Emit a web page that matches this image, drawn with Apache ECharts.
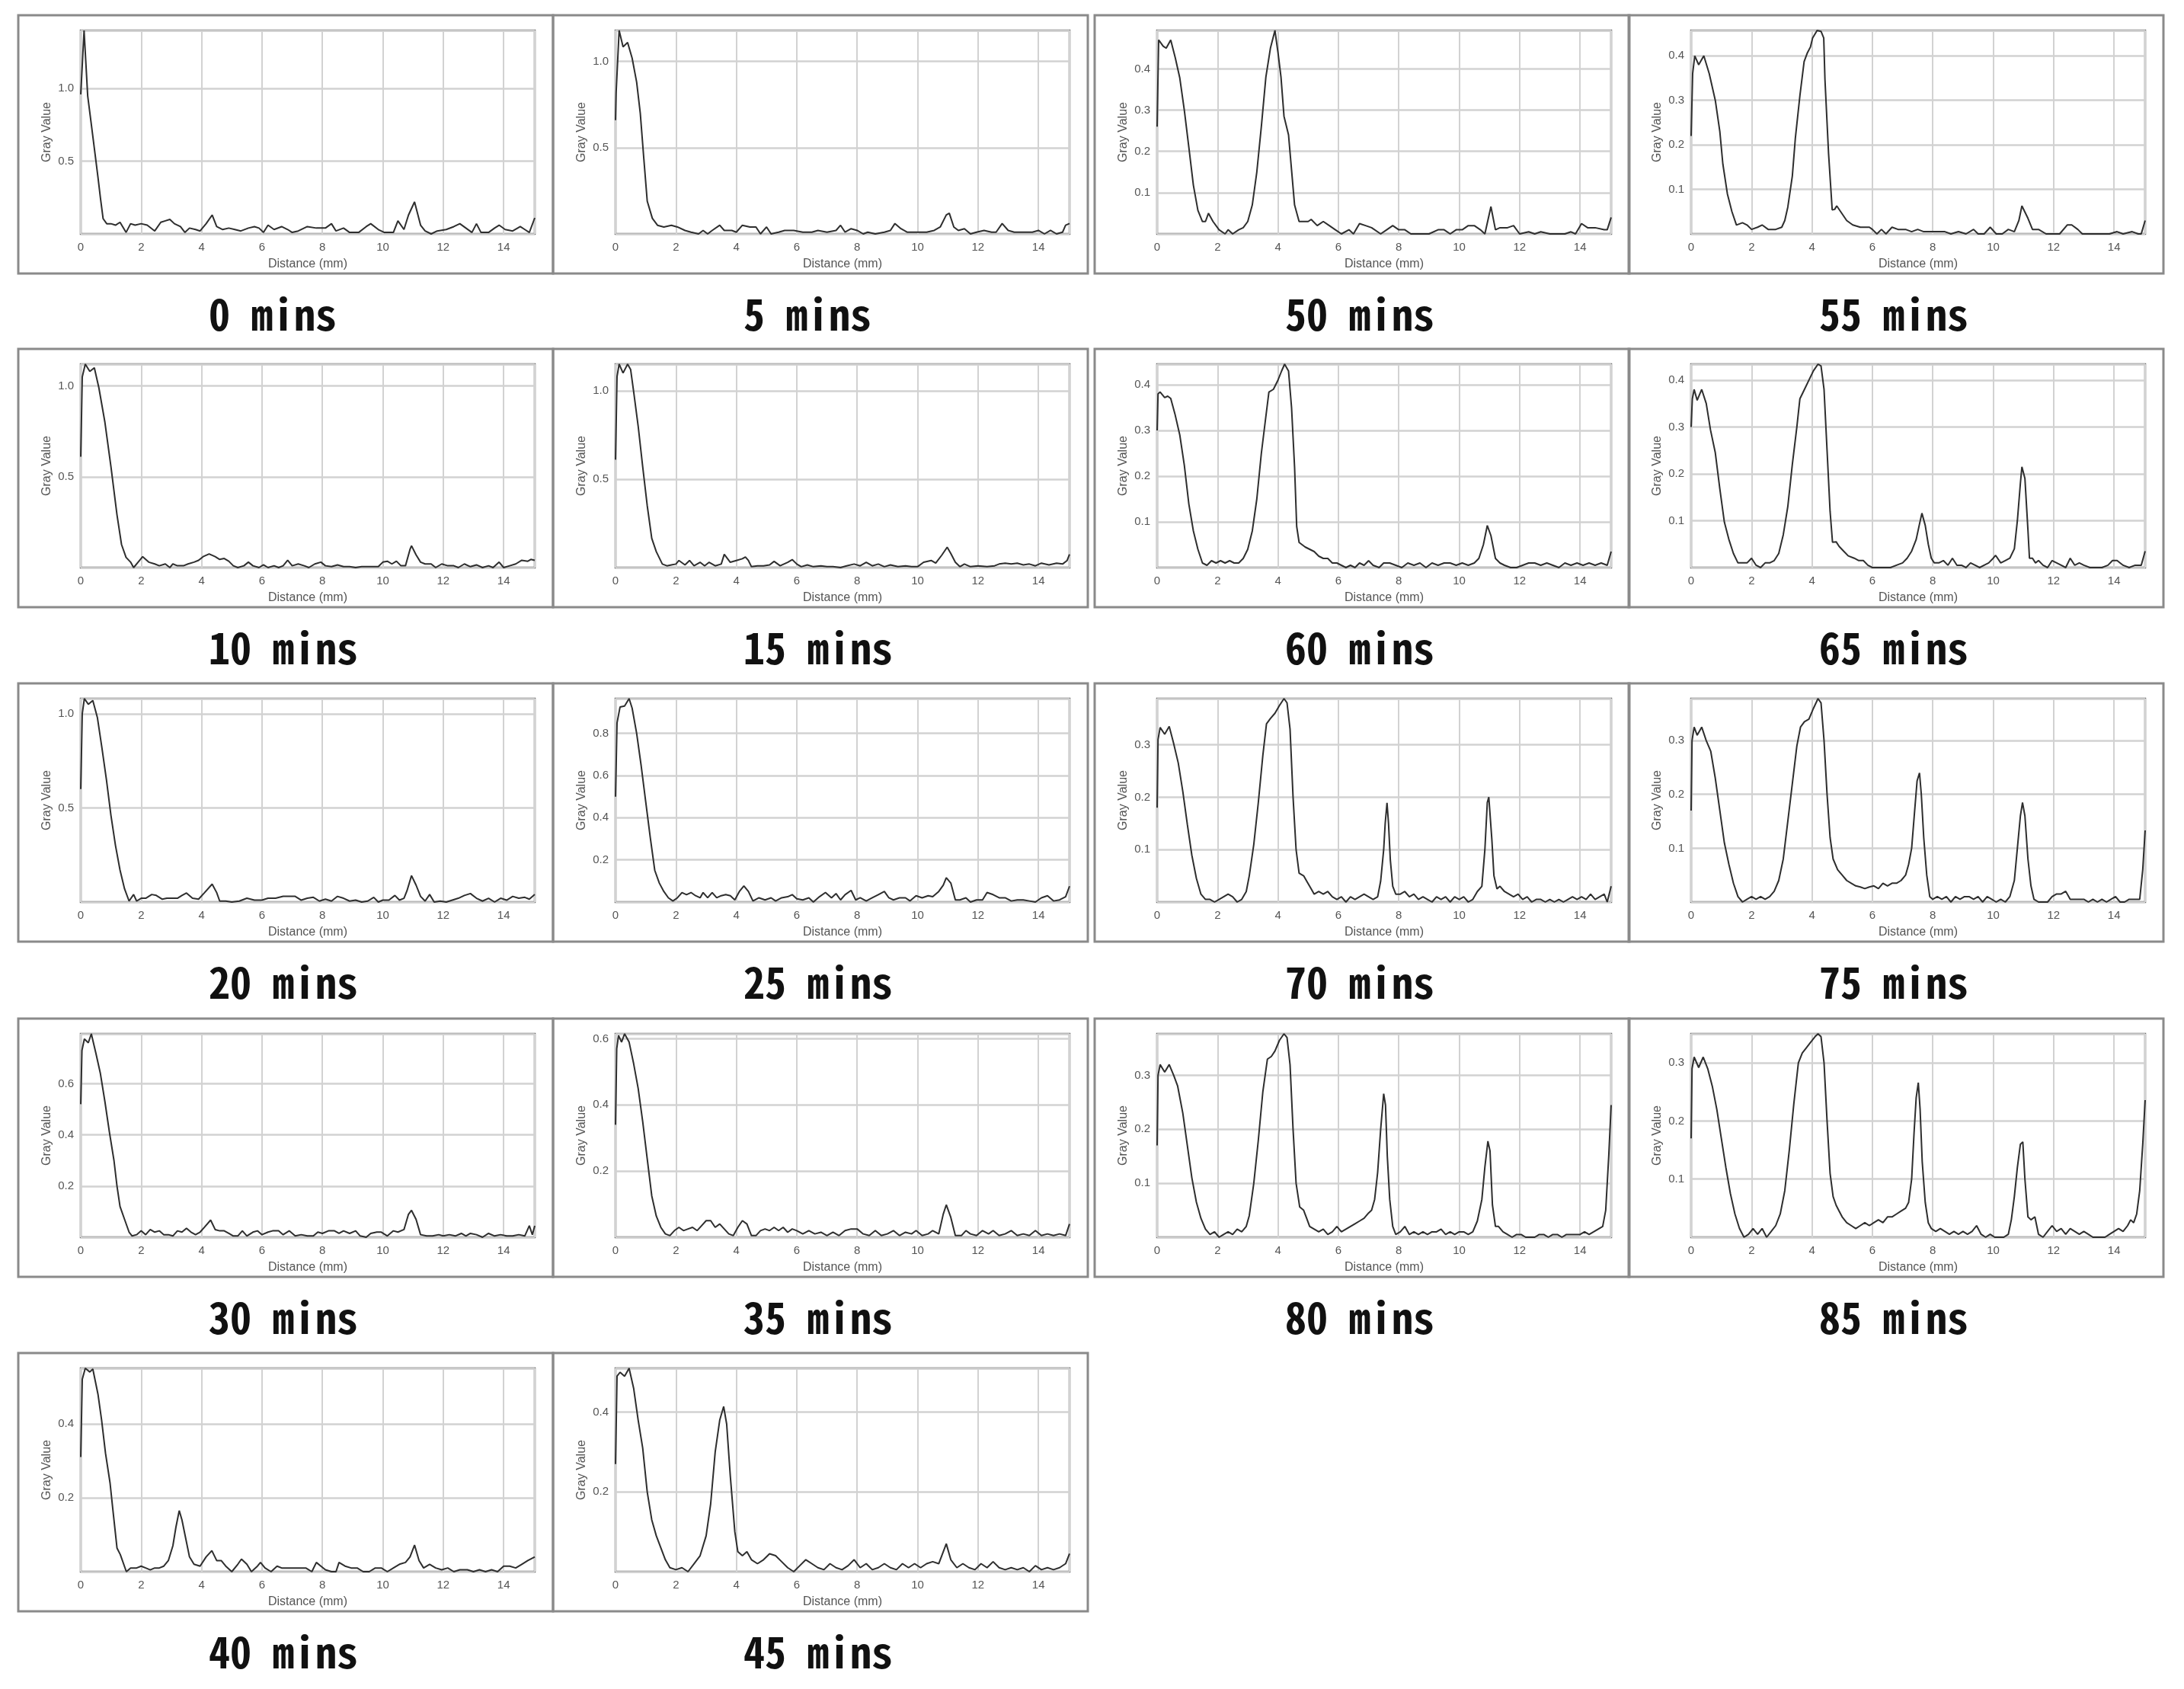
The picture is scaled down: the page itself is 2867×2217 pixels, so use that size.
<!DOCTYPE html>
<html>
<head>
<meta charset="utf-8">
<script src="https://cdn.jsdelivr.net/npm/echarts@6/dist/echarts.min.js"></script>
<style>
html,body{margin:0;padding:0;background:#fff}
#charts{width:2867px;height:2217px}
</style>
</head>
<body>
<div id="charts"></div>
<script>
// gray value profiles, [distance (mm), gray value]
var p0 = [[0,0.96],[0.11,1.40],[0.23,0.95],[0.34,0.77],[0.48,0.54],[0.57,0.39],[0.65,0.25],[0.74,0.105],[0.86,0.07],[1.0,0.07],[1.15,0.06],[1.3,0.08],[1.5,0.01],[1.65,0.07],[1.8,0.06],[2.0,0.07],[2.2,0.06],[2.45,0.02],[2.65,0.08],[2.8,0.09],[2.95,0.10],[3.1,0.07],[3.3,0.05],[3.45,0.01],[3.6,0.04],[3.8,0.03],[3.95,0.02],[4.15,0.07],[4.35,0.13],[4.5,0.05],[4.7,0.03],[4.9,0.04],[5.1,0.03],[5.3,0.02],[5.55,0.04],[5.75,0.05],[5.9,0.04],[6.05,0.01],[6.2,0.06],[6.4,0.03],[6.65,0.05],[6.85,0.03],[7.0,0.01],[7.2,0.02],[7.5,0.05],[7.8,0.04],[8.1,0.04],[8.3,0.07],[8.45,0.02],[8.7,0.04],[8.9,0.01],[9.2,0.01],[9.45,0.05],[9.6,0.07],[9.85,0.03],[10.05,0.01],[10.35,0.01],[10.5,0.09],[10.7,0.03],[10.85,0.13],[11.05,0.22],[11.25,0.06],[11.4,0.02],[11.6,0.0],[11.8,0.02],[12.1,0.03],[12.35,0.05],[12.55,0.07],[12.75,0.04],[12.95,0.01],[13.1,0.07],[13.25,0.01],[13.5,0.01],[13.7,0.04],[13.85,0.06],[14.05,0.03],[14.3,0.02],[14.55,0.05],[14.7,0.03],[14.85,0.01],[15.03,0.11]];
var p5 = [[0,0.66],[0.02,0.82],[0.12,1.18],[0.25,1.085],[0.4,1.11],[0.55,1.02],[0.7,0.88],[0.82,0.70],[0.94,0.43],[1.05,0.19],[1.22,0.09],[1.39,0.05],[1.6,0.04],[1.85,0.05],[2.05,0.04],[2.3,0.02],[2.5,0.01],[2.75,0.0],[2.9,0.02],[3.05,0.0],[3.2,0.02],[3.45,0.05],[3.6,0.02],[3.85,0.02],[4.0,0.01],[4.2,0.05],[4.45,0.04],[4.65,0.04],[4.8,0.0],[5.0,0.04],[5.15,0.0],[5.4,0.01],[5.6,0.02],[5.9,0.02],[6.2,0.01],[6.5,0.01],[6.7,0.02],[7.0,0.01],[7.3,0.02],[7.45,0.05],[7.6,0.01],[7.8,0.03],[8.0,0.02],[8.2,0.0],[8.35,0.01],[8.6,0.0],[8.9,0.01],[9.1,0.02],[9.25,0.06],[9.45,0.03],[9.65,0.01],[9.9,0.01],[10.1,0.01],[10.3,0.01],[10.55,0.02],[10.75,0.04],[10.95,0.11],[11.05,0.12],[11.2,0.04],[11.35,0.02],[11.55,0.03],[11.75,0.0],[11.95,0.01],[12.2,0.02],[12.45,0.01],[12.6,0.01],[12.8,0.06],[13.0,0.02],[13.2,0.01],[13.5,0.01],[13.8,0.01],[14.0,0.02],[14.2,0.0],[14.4,0.02],[14.6,0.0],[14.8,0.01],[14.9,0.05],[15.03,0.06]];
var p10 = [[0,0.61],[0.05,1.05],[0.15,1.12],[0.3,1.08],[0.45,1.10],[0.6,0.99],[0.8,0.80],[1.0,0.555],[1.2,0.29],[1.35,0.127],[1.5,0.056],[1.65,0.03],[1.75,0.0],[1.9,0.03],[2.05,0.06],[2.25,0.03],[2.45,0.02],[2.6,0.01],[2.8,0.02],[2.95,0.0],[3.05,0.02],[3.2,0.01],[3.4,0.01],[3.55,0.02],[3.75,0.03],[3.9,0.04],[4.05,0.06],[4.25,0.075],[4.45,0.06],[4.6,0.045],[4.75,0.05],[4.9,0.035],[5.05,0.01],[5.2,0.0],[5.4,0.01],[5.55,0.03],[5.7,0.01],[5.9,0.0],[6.05,0.015],[6.2,0.0],[6.4,0.01],[6.55,0.0],[6.7,0.01],[6.85,0.04],[7.0,0.01],[7.2,0.02],[7.4,0.01],[7.55,0.0],[7.75,0.02],[7.95,0.03],[8.1,0.01],[8.3,0.005],[8.5,0.015],[8.7,0.005],[8.9,0.005],[9.1,0.0],[9.3,0.005],[9.6,0.005],[9.85,0.005],[10.0,0.03],[10.15,0.035],[10.3,0.02],[10.45,0.035],[10.6,0.01],[10.75,0.01],[10.9,0.10],[10.95,0.12],[11.1,0.07],[11.25,0.03],[11.4,0.02],[11.6,0.02],[11.75,0.0],[11.95,0.02],[12.15,0.01],[12.35,0.01],[12.5,0.0],[12.7,0.02],[12.9,0.005],[13.1,0.015],[13.3,0.0],[13.5,0.01],[13.65,0.0],[13.85,0.03],[14.0,0.0],[14.2,0.01],[14.4,0.02],[14.6,0.04],[14.8,0.035],[14.9,0.045],[15.03,0.04]];
var p15 = [[0,0.61],[0.05,1.08],[0.12,1.15],[0.25,1.10],[0.4,1.15],[0.5,1.12],[0.6,0.995],[0.75,0.80],[0.9,0.57],[1.05,0.35],[1.2,0.165],[1.35,0.09],[1.55,0.02],[1.7,0.01],[1.85,0.015],[2.0,0.02],[2.1,0.04],[2.3,0.015],[2.45,0.04],[2.6,0.01],[2.8,0.03],[2.95,0.01],[3.1,0.03],[3.3,0.01],[3.5,0.02],[3.6,0.075],[3.8,0.03],[4.0,0.04],[4.2,0.05],[4.3,0.06],[4.4,0.04],[4.5,0.005],[4.7,0.01],[4.9,0.01],[5.1,0.015],[5.25,0.035],[5.45,0.01],[5.7,0.03],[5.85,0.045],[6.0,0.02],[6.15,0.005],[6.35,0.015],[6.55,0.005],[6.8,0.01],[7.0,0.005],[7.2,0.005],[7.45,0.0],[7.65,0.01],[7.9,0.02],[8.1,0.01],[8.3,0.03],[8.5,0.01],[8.7,0.02],[8.9,0.005],[9.1,0.015],[9.35,0.005],[9.6,0.01],[9.8,0.005],[10.0,0.005],[10.2,0.03],[10.45,0.04],[10.6,0.025],[10.8,0.07],[10.98,0.115],[11.1,0.08],[11.25,0.03],[11.4,0.005],[11.55,0.02],[11.75,0.005],[12.0,0.01],[12.3,0.005],[12.55,0.01],[12.7,0.02],[12.9,0.025],[13.1,0.02],[13.3,0.025],[13.5,0.015],[13.7,0.02],[13.9,0.01],[14.1,0.025],[14.35,0.015],[14.6,0.025],[14.8,0.02],[14.95,0.04],[15.03,0.075]];
var p20 = [[0,0.60],[0.05,1.0],[0.12,1.08],[0.25,1.05],[0.4,1.07],[0.55,0.98],[0.7,0.82],[0.85,0.65],[1.0,0.46],[1.15,0.30],[1.3,0.17],[1.45,0.07],[1.6,0.005],[1.75,0.04],[1.85,0.005],[2.0,0.02],[2.15,0.02],[2.35,0.04],[2.5,0.035],[2.7,0.015],[2.85,0.02],[3.0,0.02],[3.2,0.02],[3.35,0.035],[3.5,0.048],[3.7,0.02],[3.9,0.015],[4.1,0.05],[4.35,0.095],[4.5,0.05],[4.6,0.005],[4.8,0.005],[5.0,0.0],[5.25,0.005],[5.5,0.02],[5.75,0.01],[6.0,0.01],[6.2,0.02],[6.45,0.02],[6.7,0.03],[6.9,0.03],[7.1,0.03],[7.3,0.01],[7.5,0.02],[7.7,0.025],[7.9,0.005],[8.1,0.015],[8.3,0.005],[8.5,0.03],[8.7,0.02],[8.9,0.005],[9.1,0.01],[9.3,0.0],[9.5,0.005],[9.7,0.025],[9.85,0.0],[10.0,0.01],[10.2,0.01],[10.4,0.035],[10.55,0.01],[10.7,0.02],[10.8,0.06],[10.95,0.14],[11.1,0.09],[11.25,0.03],[11.4,0.005],[11.55,0.04],[11.7,0.0],[11.9,0.005],[12.1,0.0],[12.3,0.01],[12.5,0.02],[12.7,0.035],[12.9,0.045],[13.1,0.02],[13.3,0.005],[13.5,0.02],[13.7,0.0],[13.9,0.02],[14.1,0.01],[14.3,0.03],[14.5,0.02],[14.7,0.025],[14.85,0.015],[15.03,0.04]];
var p25 = [[0,0.50],[0.05,0.85],[0.15,0.925],[0.3,0.93],[0.45,0.965],[0.55,0.92],[0.7,0.80],[0.85,0.646],[1.0,0.476],[1.15,0.307],[1.3,0.15],[1.45,0.09],[1.6,0.05],[1.75,0.02],[1.9,0.005],[2.05,0.02],[2.2,0.045],[2.35,0.035],[2.5,0.045],[2.65,0.03],[2.8,0.02],[2.9,0.045],[3.05,0.02],[3.2,0.045],[3.35,0.02],[3.5,0.03],[3.65,0.035],[3.8,0.03],[3.95,0.01],[4.1,0.05],[4.25,0.076],[4.4,0.05],[4.55,0.005],[4.75,0.02],[4.95,0.01],[5.15,0.02],[5.3,0.005],[5.5,0.02],[5.7,0.025],[5.85,0.035],[6.0,0.015],[6.2,0.01],[6.4,0.02],[6.55,0.0],[6.75,0.025],[6.95,0.045],[7.15,0.02],[7.3,0.04],[7.45,0.01],[7.6,0.035],[7.8,0.055],[7.95,0.01],[8.1,0.02],[8.3,0.005],[8.5,0.02],[8.7,0.035],[8.9,0.05],[9.05,0.02],[9.2,0.01],[9.4,0.02],[9.6,0.02],[9.75,0.005],[9.95,0.03],[10.15,0.02],[10.35,0.03],[10.5,0.025],[10.7,0.05],[10.85,0.08],[10.95,0.115],[11.1,0.09],[11.25,0.01],[11.4,0.01],[11.6,0.02],[11.75,0.0],[11.95,0.01],[12.15,0.01],[12.3,0.045],[12.5,0.035],[12.7,0.02],[12.9,0.02],[13.1,0.005],[13.3,0.01],[13.5,0.01],[13.7,0.005],[13.9,0.0],[14.1,0.02],[14.3,0.03],[14.5,0.005],[14.7,0.01],[14.9,0.025],[15.03,0.075]];
var p30 = [[0,0.52],[0.04,0.73],[0.12,0.775],[0.25,0.76],[0.35,0.795],[0.5,0.72],[0.65,0.64],[0.8,0.53],[0.95,0.41],[1.1,0.30],[1.2,0.20],[1.3,0.12],[1.45,0.07],[1.6,0.02],[1.7,0.005],[1.85,0.01],[2.0,0.025],[2.15,0.01],[2.3,0.03],[2.45,0.02],[2.6,0.025],[2.75,0.01],[2.9,0.01],[3.05,0.005],[3.2,0.025],[3.35,0.02],[3.5,0.035],[3.65,0.02],[3.8,0.01],[3.95,0.02],[4.1,0.04],[4.3,0.067],[4.45,0.03],[4.6,0.025],[4.75,0.025],[4.9,0.015],[5.05,0.005],[5.2,0.005],[5.35,0.025],[5.5,0.005],[5.7,0.02],[5.85,0.025],[6.0,0.01],[6.2,0.02],[6.35,0.025],[6.55,0.025],[6.7,0.01],[6.9,0.025],[7.1,0.005],[7.3,0.01],[7.5,0.005],[7.7,0.005],[7.85,0.02],[8.0,0.015],[8.2,0.025],[8.4,0.025],[8.55,0.015],[8.7,0.025],[8.9,0.015],[9.1,0.025],[9.25,0.005],[9.45,0.0],[9.6,0.015],[9.8,0.02],[9.95,0.02],[10.15,0.005],[10.35,0.025],[10.5,0.02],[10.7,0.03],[10.85,0.09],[10.95,0.105],[11.1,0.07],[11.25,0.01],[11.45,0.005],[11.65,0.005],[11.85,0.01],[12.0,0.005],[12.2,0.01],[12.4,0.005],[12.6,0.015],[12.75,0.005],[12.9,0.015],[13.1,0.01],[13.3,0.0],[13.5,0.015],[13.7,0.005],[13.9,0.01],[14.1,0.005],[14.3,0.005],[14.5,0.01],[14.7,0.005],[14.85,0.045],[14.95,0.01],[15.03,0.045]];
var p35 = [[0,0.34],[0.04,0.57],[0.1,0.61],[0.2,0.59],[0.3,0.615],[0.45,0.59],[0.6,0.525],[0.75,0.45],[0.9,0.35],[1.05,0.237],[1.2,0.125],[1.35,0.064],[1.5,0.03],[1.65,0.01],[1.8,0.005],[1.95,0.02],[2.1,0.03],[2.25,0.02],[2.4,0.025],[2.55,0.03],[2.7,0.02],[2.85,0.035],[3.0,0.05],[3.15,0.05],[3.3,0.03],[3.45,0.04],[3.6,0.025],[3.75,0.01],[3.9,0.005],[4.05,0.03],[4.2,0.05],[4.35,0.04],[4.5,0.005],[4.65,0.005],[4.8,0.02],[4.95,0.025],[5.1,0.02],[5.25,0.03],[5.4,0.02],[5.55,0.03],[5.7,0.015],[5.85,0.025],[6.0,0.02],[6.2,0.01],[6.4,0.02],[6.6,0.01],[6.8,0.015],[7.0,0.005],[7.2,0.015],[7.4,0.005],[7.6,0.02],[7.8,0.025],[8.0,0.025],[8.2,0.01],[8.4,0.005],[8.6,0.02],[8.8,0.005],[9.0,0.01],[9.2,0.02],[9.4,0.005],[9.6,0.015],[9.8,0.01],[9.95,0.02],[10.15,0.005],[10.35,0.01],[10.5,0.02],[10.7,0.01],[10.85,0.07],[10.95,0.098],[11.1,0.06],[11.25,0.005],[11.45,0.005],[11.6,0.02],[11.75,0.01],[11.95,0.005],[12.15,0.02],[12.35,0.01],[12.5,0.02],[12.7,0.005],[12.9,0.01],[13.1,0.02],[13.3,0.005],[13.5,0.01],[13.7,0.005],[13.9,0.02],[14.1,0.005],[14.3,0.01],[14.5,0.005],[14.7,0.01],[14.9,0.005],[15.03,0.04]];
var p40 = [[0,0.31],[0.05,0.52],[0.15,0.55],[0.3,0.54],[0.4,0.548],[0.57,0.48],[0.69,0.41],[0.82,0.32],[0.97,0.24],[1.06,0.17],[1.2,0.064],[1.31,0.046],[1.51,0.0],[1.65,0.01],[1.85,0.01],[2.0,0.015],[2.15,0.01],[2.3,0.005],[2.45,0.01],[2.6,0.01],[2.75,0.015],[2.9,0.03],[3.05,0.07],[3.15,0.12],[3.26,0.165],[3.35,0.14],[3.45,0.10],[3.6,0.04],[3.75,0.02],[3.95,0.015],[4.15,0.04],[4.34,0.057],[4.5,0.03],[4.65,0.03],[4.8,0.015],[5.0,0.0],[5.2,0.02],[5.32,0.034],[5.5,0.02],[5.65,0.0],[5.85,0.015],[5.95,0.025],[6.1,0.01],[6.3,0.0],[6.5,0.015],[6.65,0.01],[6.85,0.01],[7.05,0.01],[7.25,0.01],[7.45,0.01],[7.65,0.0],[7.8,0.025],[7.95,0.015],[8.1,0.005],[8.3,0.0],[8.45,0.0],[8.55,0.025],[8.75,0.015],[8.95,0.01],[9.15,0.01],[9.35,0.0],[9.55,0.0],[9.75,0.01],[9.95,0.01],[10.15,0.0],[10.35,0.01],[10.55,0.02],[10.75,0.025],[10.9,0.04],[11.05,0.072],[11.2,0.03],[11.35,0.01],[11.55,0.02],[11.75,0.01],[11.95,0.005],[12.15,0.01],[12.35,0.0],[12.55,0.005],[12.8,0.005],[13.0,0.0],[13.2,0.005],[13.4,0.0],[13.6,0.005],[13.8,0.0],[14.0,0.015],[14.2,0.015],[14.4,0.01],[14.6,0.02],[14.8,0.03],[15.03,0.04]];
var p45 = [[0,0.27],[0.05,0.49],[0.15,0.50],[0.3,0.49],[0.45,0.51],[0.6,0.46],[0.75,0.38],[0.9,0.31],[1.05,0.20],[1.2,0.13],[1.35,0.09],[1.5,0.06],[1.65,0.03],[1.8,0.01],[2.0,0.005],[2.2,0.01],[2.4,0.0],[2.6,0.02],[2.8,0.04],[3.0,0.09],[3.15,0.17],[3.3,0.30],[3.45,0.38],[3.58,0.414],[3.68,0.37],[3.8,0.24],[3.95,0.10],[4.05,0.05],[4.2,0.04],[4.35,0.05],[4.5,0.03],[4.7,0.02],[4.9,0.03],[5.1,0.045],[5.3,0.04],[5.5,0.025],[5.7,0.01],[5.9,0.0],[6.1,0.015],[6.3,0.03],[6.5,0.02],[6.7,0.01],[6.9,0.005],[7.1,0.02],[7.3,0.01],[7.5,0.005],[7.7,0.015],[7.9,0.03],[8.1,0.01],[8.3,0.02],[8.5,0.005],[8.7,0.01],[8.9,0.02],[9.1,0.01],[9.3,0.005],[9.5,0.02],[9.7,0.01],[9.9,0.02],[10.1,0.01],[10.3,0.02],[10.5,0.025],[10.7,0.02],[10.85,0.05],[10.95,0.07],[11.1,0.03],[11.3,0.01],[11.5,0.02],[11.7,0.01],[11.9,0.005],[12.1,0.02],[12.3,0.01],[12.5,0.025],[12.7,0.01],[12.9,0.005],[13.1,0.01],[13.3,0.005],[13.5,0.01],[13.7,0.0],[13.9,0.015],[14.1,0.005],[14.3,0.01],[14.5,0.005],[14.7,0.01],[14.9,0.02],[15.03,0.045]];
var p50 = [[0,0.26],[0.05,0.47],[0.2,0.455],[0.3,0.45],[0.45,0.47],[0.6,0.427],[0.75,0.378],[0.9,0.30],[1.05,0.21],[1.2,0.118],[1.35,0.057],[1.5,0.03],[1.6,0.03],[1.7,0.05],[1.85,0.03],[2.05,0.01],[2.25,0.0],[2.35,0.01],[2.5,0.0],[2.7,0.01],[2.85,0.015],[3.0,0.03],[3.15,0.07],[3.3,0.15],[3.45,0.26],[3.6,0.38],[3.75,0.45],[3.9,0.493],[4.0,0.44],[4.1,0.38],[4.2,0.285],[4.35,0.24],[4.45,0.155],[4.55,0.07],[4.7,0.03],[5.0,0.03],[5.1,0.035],[5.3,0.02],[5.5,0.03],[5.7,0.02],[5.9,0.01],[6.1,0.0],[6.35,0.01],[6.5,0.0],[6.7,0.025],[6.9,0.02],[7.1,0.015],[7.4,0.0],[7.6,0.01],[7.8,0.02],[8.0,0.01],[8.2,0.01],[8.4,0.0],[8.7,0.0],[9.0,0.0],[9.3,0.01],[9.5,0.01],[9.7,0.0],[9.9,0.01],[10.1,0.01],[10.3,0.02],[10.5,0.02],[10.7,0.01],[10.85,0.0],[11.05,0.066],[11.2,0.01],[11.35,0.015],[11.6,0.015],[11.8,0.02],[12.0,0.0],[12.3,0.005],[12.5,0.0],[12.7,0.005],[13.0,0.0],[13.5,0.0],[13.7,0.005],[13.85,0.0],[14.05,0.025],[14.25,0.015],[14.5,0.015],[14.8,0.01],[14.9,0.01],[15.03,0.04]];
var p55 = [[0,0.22],[0.05,0.36],[0.12,0.40],[0.25,0.38],[0.42,0.40],[0.6,0.36],[0.8,0.30],[0.95,0.23],[1.05,0.157],[1.2,0.09],[1.35,0.05],[1.5,0.02],[1.7,0.025],[1.85,0.02],[2.0,0.01],[2.2,0.015],[2.35,0.02],[2.55,0.01],[2.8,0.01],[3.0,0.015],[3.1,0.03],[3.2,0.06],[3.35,0.13],[3.45,0.215],[3.6,0.31],[3.74,0.387],[3.85,0.407],[3.95,0.42],[4.02,0.44],[4.17,0.457],[4.3,0.455],[4.39,0.44],[4.43,0.347],[4.55,0.18],[4.67,0.054],[4.75,0.055],[4.82,0.063],[5.0,0.045],[5.15,0.03],[5.35,0.02],[5.6,0.015],[5.9,0.015],[6.0,0.01],[6.15,0.0],[6.3,0.01],[6.45,0.0],[6.65,0.015],[6.85,0.01],[7.1,0.01],[7.3,0.005],[7.5,0.01],[7.7,0.005],[7.9,0.005],[8.1,0.005],[8.4,0.005],[8.6,0.0],[8.85,0.005],[9.1,0.0],[9.35,0.01],[9.5,0.0],[9.7,0.0],[9.9,0.015],[10.1,0.0],[10.3,0.0],[10.5,0.01],[10.7,0.005],[10.85,0.03],[10.95,0.063],[11.15,0.035],[11.3,0.01],[11.5,0.01],[11.75,0.0],[12.0,0.0],[12.2,0.0],[12.45,0.02],[12.6,0.02],[12.8,0.01],[12.95,0.0],[13.3,0.0],[13.6,0.0],[13.85,0.0],[14.1,0.005],[14.3,0.0],[14.6,0.005],[14.8,0.0],[14.9,0.0],[15.03,0.03]];
var p60 = [[0,0.30],[0.03,0.38],[0.1,0.384],[0.25,0.372],[0.35,0.375],[0.45,0.37],[0.59,0.336],[0.75,0.29],[0.9,0.224],[1.05,0.139],[1.2,0.08],[1.35,0.04],[1.5,0.01],[1.65,0.005],[1.8,0.015],[1.95,0.01],[2.1,0.015],[2.25,0.01],[2.4,0.015],[2.55,0.01],[2.7,0.01],[2.85,0.02],[3.0,0.04],[3.15,0.08],[3.3,0.15],[3.45,0.25],[3.58,0.32],[3.7,0.384],[3.85,0.39],[4.0,0.41],[4.12,0.43],[4.22,0.445],[4.35,0.43],[4.45,0.35],[4.55,0.22],[4.62,0.09],[4.7,0.055],[4.9,0.045],[5.05,0.04],[5.2,0.035],[5.35,0.025],[5.5,0.02],[5.65,0.02],[5.8,0.01],[5.95,0.01],[6.1,0.005],[6.25,0.0],[6.4,0.005],[6.55,0.0],[6.7,0.01],[6.85,0.005],[7.0,0.015],[7.15,0.005],[7.35,0.0],[7.5,0.01],[7.7,0.01],[7.9,0.005],[8.1,0.0],[8.3,0.01],[8.5,0.005],[8.7,0.01],[8.9,0.0],[9.1,0.01],[9.3,0.005],[9.5,0.01],[9.7,0.01],[9.9,0.005],[10.1,0.01],[10.3,0.005],[10.5,0.01],[10.65,0.02],[10.8,0.05],[10.93,0.092],[11.05,0.07],[11.2,0.02],[11.35,0.01],[11.5,0.005],[11.7,0.0],[11.9,0.0],[12.1,0.005],[12.3,0.01],[12.5,0.01],[12.7,0.005],[12.9,0.01],[13.1,0.005],[13.3,0.0],[13.5,0.01],[13.7,0.005],[13.9,0.01],[14.1,0.005],[14.3,0.01],[14.5,0.005],[14.7,0.01],[14.9,0.005],[15.03,0.035]];
var p65 = [[0,0.30],[0.04,0.36],[0.1,0.38],[0.2,0.357],[0.35,0.38],[0.5,0.35],[0.64,0.294],[0.8,0.245],[0.95,0.168],[1.1,0.097],[1.25,0.06],[1.4,0.03],[1.55,0.01],[1.7,0.01],[1.85,0.01],[2.0,0.02],[2.15,0.005],[2.3,0.0],[2.45,0.01],[2.6,0.01],[2.75,0.015],[2.9,0.03],[3.05,0.07],[3.2,0.13],[3.35,0.22],[3.5,0.30],[3.6,0.36],[3.75,0.38],[3.9,0.40],[4.05,0.42],[4.2,0.434],[4.3,0.43],[4.4,0.38],[4.5,0.25],[4.6,0.12],[4.68,0.054],[4.8,0.055],[4.9,0.045],[5.05,0.035],[5.2,0.025],[5.4,0.02],[5.55,0.015],[5.7,0.015],[5.85,0.005],[6.0,0.0],[6.3,0.0],[6.6,0.0],[6.8,0.005],[7.0,0.01],[7.15,0.02],[7.3,0.035],[7.45,0.06],[7.55,0.09],[7.64,0.116],[7.75,0.09],[7.85,0.05],[7.95,0.02],[8.05,0.01],[8.2,0.01],[8.35,0.015],[8.5,0.005],[8.65,0.02],[8.8,0.005],[8.95,0.005],[9.1,0.0],[9.25,0.01],[9.4,0.005],[9.55,0.0],[9.7,0.005],[9.85,0.01],[10.0,0.02],[10.08,0.026],[10.25,0.01],[10.4,0.015],[10.55,0.02],[10.7,0.04],[10.8,0.10],[10.9,0.18],[10.95,0.215],[11.05,0.19],[11.15,0.08],[11.2,0.02],[11.3,0.02],[11.4,0.01],[11.5,0.015],[11.65,0.005],[11.8,0.0],[11.95,0.015],[12.1,0.01],[12.25,0.005],[12.4,0.0],[12.55,0.02],[12.7,0.005],[12.85,0.01],[13.0,0.005],[13.2,0.0],[13.4,0.0],[13.6,0.0],[13.8,0.005],[13.95,0.015],[14.1,0.015],[14.3,0.005],[14.5,0.0],[14.7,0.005],[14.9,0.005],[15.03,0.035]];
var p70 = [[0,0.18],[0.03,0.31],[0.1,0.333],[0.25,0.32],[0.4,0.335],[0.54,0.304],[0.7,0.265],[0.85,0.211],[1.0,0.148],[1.15,0.089],[1.3,0.045],[1.45,0.015],[1.6,0.005],[1.75,0.005],[1.9,0.0],[2.05,0.005],[2.2,0.01],[2.35,0.015],[2.5,0.01],[2.65,0.0],[2.8,0.005],[2.95,0.02],[3.05,0.05],[3.2,0.11],[3.35,0.19],[3.5,0.28],[3.62,0.34],[3.75,0.35],[3.9,0.36],[4.05,0.375],[4.2,0.388],[4.3,0.38],[4.4,0.33],[4.5,0.20],[4.6,0.10],[4.7,0.055],[4.85,0.05],[4.95,0.04],[5.1,0.025],[5.2,0.015],[5.35,0.02],[5.5,0.015],[5.65,0.02],[5.8,0.01],[5.95,0.005],[6.1,0.01],[6.25,0.0],[6.4,0.01],[6.55,0.005],[6.7,0.01],[6.85,0.015],[7.0,0.01],[7.15,0.005],[7.3,0.01],[7.4,0.04],[7.5,0.10],[7.55,0.15],[7.61,0.189],[7.66,0.15],[7.72,0.08],[7.8,0.03],[7.9,0.015],[8.05,0.015],[8.2,0.02],[8.35,0.01],[8.5,0.015],[8.65,0.005],[8.8,0.01],[8.95,0.005],[9.1,0.0],[9.25,0.01],[9.4,0.005],[9.55,0.01],[9.7,0.0],[9.85,0.01],[10.0,0.005],[10.15,0.01],[10.3,0.0],[10.45,0.005],[10.6,0.02],[10.75,0.03],[10.85,0.10],[10.93,0.19],[10.98,0.20],[11.08,0.12],[11.15,0.05],[11.25,0.025],[11.35,0.03],[11.5,0.02],[11.65,0.015],[11.8,0.01],[11.95,0.015],[12.1,0.005],[12.25,0.01],[12.4,0.0],[12.55,0.005],[12.7,0.005],[12.85,0.0],[13.0,0.005],[13.15,0.0],[13.3,0.005],[13.45,0.0],[13.6,0.005],[13.75,0.01],[13.9,0.005],[14.05,0.01],[14.2,0.005],[14.35,0.015],[14.5,0.005],[14.65,0.01],[14.8,0.015],[14.9,0.0],[15.03,0.03]];
var p75 = [[0,0.17],[0.03,0.30],[0.1,0.325],[0.2,0.31],[0.35,0.325],[0.5,0.30],[0.65,0.28],[0.8,0.23],[0.95,0.17],[1.1,0.11],[1.25,0.07],[1.4,0.035],[1.55,0.01],[1.7,0.0],[1.85,0.005],[2.0,0.01],[2.15,0.005],[2.3,0.01],[2.45,0.005],[2.6,0.01],[2.75,0.02],[2.9,0.04],[3.05,0.08],[3.2,0.15],[3.35,0.22],[3.5,0.29],[3.62,0.325],[3.75,0.335],[3.9,0.34],[4.05,0.36],[4.2,0.378],[4.3,0.37],[4.4,0.30],[4.5,0.20],[4.6,0.12],[4.7,0.08],[4.85,0.06],[5.0,0.05],[5.15,0.04],[5.3,0.035],[5.45,0.03],[5.6,0.028],[5.75,0.025],[5.9,0.028],[6.05,0.03],[6.2,0.025],[6.35,0.035],[6.5,0.03],[6.65,0.035],[6.8,0.035],[6.95,0.04],[7.1,0.05],[7.2,0.07],[7.3,0.10],[7.4,0.17],[7.48,0.225],[7.56,0.24],[7.62,0.20],[7.7,0.12],[7.8,0.05],[7.9,0.01],[8.0,0.005],[8.15,0.01],[8.3,0.005],[8.45,0.01],[8.6,0.0],[8.75,0.01],[8.9,0.005],[9.05,0.01],[9.2,0.01],[9.35,0.005],[9.5,0.01],[9.65,0.0],[9.8,0.01],[9.95,0.005],[10.1,0.0],[10.25,0.005],[10.4,0.0],[10.55,0.01],[10.7,0.04],[10.8,0.10],[10.9,0.16],[10.97,0.185],[11.05,0.16],[11.15,0.08],[11.25,0.03],[11.35,0.005],[11.5,0.0],[11.65,0.0],[11.8,0.0],[11.95,0.01],[12.1,0.015],[12.25,0.015],[12.4,0.02],[12.55,0.005],[12.7,0.005],[12.85,0.005],[13.0,0.005],[13.15,0.0],[13.3,0.005],[13.45,0.0],[13.6,0.005],[13.75,0.0],[13.9,0.005],[14.05,0.01],[14.2,0.0],[14.35,0.0],[14.5,0.005],[14.7,0.005],[14.85,0.005],[14.95,0.06],[15.03,0.133]];
var p80 = [[0,0.17],[0.03,0.30],[0.1,0.32],[0.25,0.306],[0.4,0.32],[0.55,0.30],[0.68,0.28],[0.85,0.23],[1.0,0.17],[1.15,0.11],[1.3,0.065],[1.45,0.035],[1.6,0.015],[1.75,0.005],[1.9,0.01],[2.05,0.0],[2.2,0.005],[2.35,0.01],[2.5,0.005],[2.65,0.015],[2.8,0.01],[2.95,0.02],[3.05,0.04],[3.2,0.10],[3.35,0.18],[3.5,0.27],[3.65,0.33],[3.78,0.335],[3.9,0.345],[4.05,0.365],[4.2,0.377],[4.3,0.37],[4.4,0.32],[4.5,0.20],[4.6,0.10],[4.72,0.056],[4.85,0.05],[4.95,0.035],[5.05,0.02],[5.2,0.015],[5.35,0.01],[5.5,0.015],[5.65,0.005],[5.8,0.01],[5.95,0.02],[6.1,0.01],[6.25,0.015],[6.4,0.02],[6.55,0.025],[6.7,0.03],[6.85,0.035],[7.0,0.045],[7.1,0.05],[7.2,0.07],[7.3,0.12],[7.4,0.20],[7.5,0.266],[7.56,0.245],[7.62,0.15],[7.7,0.07],[7.8,0.02],[7.9,0.005],[8.05,0.01],[8.2,0.02],[8.35,0.005],[8.5,0.01],[8.65,0.005],[8.8,0.01],[8.95,0.005],[9.1,0.01],[9.25,0.01],[9.4,0.015],[9.55,0.005],[9.7,0.01],[9.85,0.005],[10.0,0.01],[10.15,0.01],[10.3,0.005],[10.45,0.01],[10.6,0.03],[10.75,0.07],[10.85,0.13],[10.95,0.178],[11.02,0.16],[11.1,0.06],[11.2,0.02],[11.3,0.02],[11.45,0.01],[11.6,0.005],[11.75,0.0],[11.9,0.005],[12.05,0.005],[12.2,0.0],[12.35,0.0],[12.5,0.0],[12.65,0.005],[12.8,0.005],[12.95,0.0],[13.1,0.005],[13.25,0.005],[13.4,0.0],[13.55,0.005],[13.7,0.005],[13.85,0.005],[14.0,0.005],[14.15,0.01],[14.3,0.005],[14.45,0.01],[14.6,0.015],[14.75,0.02],[14.85,0.05],[14.95,0.15],[15.03,0.245]];
var p85 = [[0,0.17],[0.03,0.29],[0.1,0.31],[0.25,0.292],[0.4,0.31],[0.55,0.29],[0.7,0.26],[0.85,0.22],[1.0,0.17],[1.15,0.12],[1.3,0.075],[1.45,0.04],[1.6,0.015],[1.75,0.0],[1.9,0.005],[2.05,0.015],[2.2,0.005],[2.35,0.015],[2.5,0.0],[2.65,0.01],[2.8,0.02],[2.95,0.04],[3.1,0.08],[3.25,0.15],[3.4,0.23],[3.55,0.30],[3.68,0.317],[3.8,0.325],[3.95,0.335],[4.1,0.345],[4.2,0.35],[4.3,0.345],[4.4,0.30],[4.5,0.20],[4.6,0.11],[4.7,0.07],[4.8,0.055],[4.9,0.045],[5.0,0.035],[5.15,0.025],[5.3,0.02],[5.45,0.015],[5.6,0.02],[5.75,0.025],[5.9,0.02],[6.05,0.025],[6.2,0.03],[6.35,0.025],[6.5,0.035],[6.65,0.035],[6.8,0.04],[6.95,0.045],[7.1,0.05],[7.2,0.06],[7.3,0.10],[7.38,0.18],[7.45,0.24],[7.52,0.266],[7.58,0.22],[7.65,0.13],[7.75,0.06],[7.85,0.025],[7.95,0.015],[8.1,0.01],[8.25,0.015],[8.4,0.01],[8.55,0.005],[8.7,0.01],[8.85,0.005],[9.0,0.01],[9.15,0.005],[9.3,0.01],[9.45,0.02],[9.6,0.005],[9.75,0.0],[9.9,0.005],[10.05,0.0],[10.2,0.0],[10.35,0.0],[10.5,0.005],[10.6,0.03],[10.7,0.07],[10.8,0.12],[10.9,0.16],[10.98,0.164],[11.05,0.10],[11.15,0.035],[11.25,0.03],[11.38,0.035],[11.5,0.005],[11.65,0.0],[11.8,0.01],[11.95,0.02],[12.1,0.01],[12.25,0.015],[12.4,0.005],[12.55,0.015],[12.7,0.01],[12.85,0.005],[13.0,0.01],[13.15,0.005],[13.3,0.0],[13.5,0.0],[13.7,0.0],[13.85,0.005],[14.0,0.01],[14.15,0.015],[14.3,0.01],[14.45,0.02],[14.55,0.03],[14.65,0.025],[14.75,0.04],[14.85,0.08],[14.95,0.16],[15.03,0.236]];

var minutes = [0, 5, 10, 15, 20, 25, 30, 35, 40, 45, 50, 55, 60, 65, 70, 75, 80, 85];
var profiles = [p0, p5, p10, p15, p20, p25, p30, p35, p40, p45, p50, p55, p60, p65, p70, p75, p80, p85];
var yMax = [1.40, 1.18, 1.12, 1.15, 1.08, 0.965, 0.795, 0.615, 0.55, 0.51, 0.493, 0.457, 0.445, 0.434, 0.388, 0.378, 0.377, 0.35];
var yStep = [0.5, 0.5, 0.5, 0.5, 0.5, 0.2, 0.2, 0.2, 0.2, 0.2, 0.1, 0.1, 0.1, 0.1, 0.1, 0.1, 0.1, 0.1];
var xMax = 15.03;

// page layout (px)
var colLeft = [24, 726, 1437, 2138];
var rowTop = [20, 458, 897, 1337, 1776];
var boxW = 702, boxH = 339;

var grids = [], xAxes = [], yAxes = [], series = [], titles = [], boxes = [];

minutes.forEach(function (m, i) {
  var col, row;
  if (m < 50) { col = (m / 5) % 2; row = Math.floor(m / 10); }
  else { var k = (m - 50) / 5; col = 2 + k % 2; row = Math.floor(k / 2); }
  var left = colLeft[col], top = rowTop[row];
  var step = yStep[i];

  grids.push({
    left: left + 82, top: top + 20, width: 596, height: 267,
    show: true, borderColor: '#6e6e6e', borderWidth: 2.5, backgroundColor: '#fff'
  });
  xAxes.push({
    gridIndex: i, type: 'value', min: 0, max: xMax, interval: 2,
    name: 'Distance (mm)', nameLocation: 'middle', nameGap: 32,
    nameTextStyle: { fontSize: 16, color: '#555', fontFamily: 'Liberation Sans' },
    axisLine: { show: false }, axisTick: { show: false },
    axisLabel: {
      fontSize: 15, color: '#555', fontFamily: 'Liberation Sans', margin: 10,
      formatter: function (v) { return (v % 2 === 0 && v <= 14) ? String(v) : ''; }
    },
    splitLine: { show: true, lineStyle: { color: '#d2d2d2', width: 2 } }
  });
  yAxes.push({
    gridIndex: i, type: 'value', min: 0, max: yMax[i], interval: step,
    name: 'Gray Value', nameLocation: 'middle', nameGap: 36,
    nameTextStyle: { fontSize: 16, color: '#555', fontFamily: 'Liberation Sans' },
    axisLine: { show: false }, axisTick: { show: false },
    axisLabel: {
      fontSize: 15, color: '#555', fontFamily: 'Liberation Sans', margin: 9,
      formatter: function (v) {
        var r = v / step;
        return (v > 0 && Math.abs(r - Math.round(r)) < 1e-6) ? v.toFixed(1) : '';
      }
    },
    splitLine: { show: true, lineStyle: { color: '#d2d2d2', width: 2.5 } }
  });
  series.push({
    type: 'line', xAxisIndex: i, yAxisIndex: i, data: profiles[i],
    showSymbol: false, clip: true, animation: false,
    lineStyle: { color: '#2e2e2e', width: 2 }
  });
  titles.push({
    text: m + ' mins', left: left + 250, top: top + 365, padding: 0,
    textStyle: { fontSize: 56, fontWeight: 'bold', color: '#111',
      fontFamily: "'Noto Sans Mono CJK SC', 'DejaVu Sans Mono', monospace" }
  });
  boxes.push({
    type: 'rect', silent: true, z: 0,
    shape: { x: left, y: top, width: boxW, height: boxH },
    style: { fill: 'none', stroke: '#8a8a8a', lineWidth: 3 }
  });
});

var chart = echarts.init(document.getElementById('charts'));
chart.setOption({
  backgroundColor: '#ffffff',
  animation: false,
  title: titles,
  grid: grids,
  xAxis: xAxes,
  yAxis: yAxes,
  series: series,
  graphic: { elements: boxes }
});
</script>
</body>
</html>
